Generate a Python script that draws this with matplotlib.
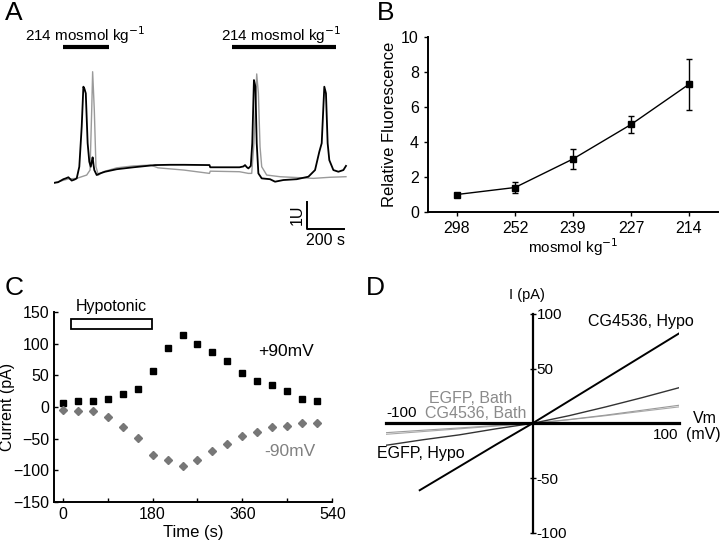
import numpy as np
import matplotlib
matplotlib.use("Agg")
import matplotlib.pyplot as plt
from matplotlib.patches import Rectangle

plt.rcParams['font.family'] = ['Liberation Sans', 'DejaVu Sans']

# ---- data ----
# A: calcium traces (time s, fluorescence U)
t_black = [0, 20, 49, 62, 76, 94, 110, 121, 135, 148, 157, 163, 170, 180, 189, 197, 203, 207, 212, 216,
           229, 247, 274, 337, 427, 544, 625, 700, 838, 842, 1000, 1021, 1030, 1040, 1048, 1061, 1069,
           1078, 1086, 1093, 1102, 1120, 1165, 1192, 1237, 1309, 1372, 1408, 1431, 1444, 1458, 1467,
           1476, 1485, 1507, 1534, 1561, 1575]
u_black = [-0.04, -0.02, 0.09, 0.12, 0.16, 0.04, 0.08, 0.12, 0.54, 1.99, 3.43, 3.35, 3.19, 1.39, 0.72, 0.54,
           0.75, 0.88, 0.60, 0.42, 0.24, 0.30, 0.36, 0.45, 0.52, 0.60, 0.61, 0.61, 0.60, 0.52, 0.52, 0.55,
           0.60, 0.52, 0.48, 0.57, 1.39, 3.67, 3.43, 1.39, 0.30, 0.12, 0.09, 0.00, 0.06, 0.09, 0.18, 0.42,
           1.08, 1.39, 3.43, 3.19, 1.39, 0.78, 0.42, 0.36, 0.42, 0.57]
t_gray = [0, 49, 76, 121, 175, 193, 202, 207, 216, 225, 238, 265, 337, 427, 520, 560, 700, 838, 842, 1000,
          1048, 1066, 1078, 1093, 1102, 1111, 1120, 1147, 1219, 1309, 1399, 1489, 1575]
u_gray = [-0.04, 0.05, 0.10, 0.12, 0.24, 0.42, 2.59, 3.97, 2.59, 0.54, 0.24, 0.36, 0.50, 0.57, 0.60, 0.50,
          0.42, 0.30, 0.38, 0.36, 0.30, 0.30, 1.39, 3.89, 3.19, 1.26, 0.54, 0.24, 0.18, 0.15, 0.12, 0.16, 0.18]

# B: relative fluorescence vs osmolality
osm_labels = ['298', '252', '239', '227', '214']
rel_fluor = [1.0, 1.4, 3.03, 5.0, 7.3]
rel_err = [0.08, 0.33, 0.55, 0.47, 1.45]

# C: current vs time
time_s = [0, 30, 60, 90, 120, 150, 180, 210, 240, 270, 300, 330, 360, 390, 420, 450, 480, 510]
cur_pos90 = [6, 10, 10, 12, 20, 28, 57, 93, 113, 100, 87, 72, 54, 41, 34, 25, 13, 10]
cur_neg90 = [-4, -7, -7, -16, -31, -49, -76, -84, -93, -84, -69, -58, -45, -39, -32, -30, -25, -25]

# D: I-V curves
vm_hypo_cg = [-77, -50, -25, 0, 25, 50, 75, 100]
i_hypo_cg = [-61, -39.5, -19.5, 0, 20.5, 41, 61.5, 82]
vm_iv = [-100, -75, -50, -25, 0, 25, 50, 75, 100]
i_hypo_egfp = [-20, -15, -10.5, -5, 0, 7, 15, 23.5, 32.5]
i_bath_egfp = [-8.5, -6.3, -4.2, -2, 0, 3.5, 7.5, 12, 16.5]
i_bath_cg = [-10, -7.5, -5, -2.5, 0, 3.3, 7, 11, 15]

W, H = 720, 544


def box(l, t, r, b):
    return [l / W, 1 - b / H, (r - l) / W, (b - t) / H]


fig = plt.figure(figsize=(7.2, 5.44), dpi=100)
gray = '#8a8a8a'

# ---------- A ----------
axA = fig.add_axes(box(54.3, 25, 350.6, 250))
axA.plot(t_gray, u_gray, color='#9a9a9a', lw=1.0)
axA.plot(t_black, u_black, color='black', lw=1.3)
axA.set_xlim(0, 1600)
axA.set_ylim(-2.466, 5.657)
axA.axis('off')
for x0, x1, xc in [(45, 297, 168), (958, 1520, 1227)]:
    axA.plot([x0, x1], [4.87, 4.87], color='black', lw=3, solid_capstyle='butt', clip_on=False)
    axA.text(xc, 5.30, '214 mosmol kg$^{-1}$', ha='center', va='center', fontsize=11, clip_on=False)
# scale bar
axA.plot([1366, 1366, 1566], [-0.72, -1.72, -1.72], color='black', lw=1.4, clip_on=False)
axA.text(1312, -1.21, '1U', rotation=90, ha='center', va='center', fontsize=11.5)
axA.text(1466, -2.13, '200 s', ha='center', va='center', fontsize=11.5)

# ---------- B ----------
axB = fig.add_axes(box(428, 37, 718, 212))
xb = np.arange(1, len(osm_labels) + 1)
axB.errorbar(xb, rel_fluor, yerr=rel_err, color='black', lw=1.0, marker='s', ms=3.8,
             capsize=2.5, elinewidth=1.0, capthick=1.0)
axB.set_xlim(0.5, 5.5)
axB.set_ylim(0, 10)
axB.set_xticks(xb)
axB.set_xticklabels(osm_labels)
axB.set_yticks(range(0, 11, 2))
axB.spines['top'].set_visible(False)
axB.spines['right'].set_visible(False)
for s in ('left', 'bottom'):
    axB.spines[s].set_linewidth(1.4)
axB.tick_params(labelsize=11.5, direction='out', length=3, width=1)
axB.set_xlabel('mosmol kg$^{-1}$', fontsize=11, labelpad=0)
axB.set_ylabel('Relative Fluorescence', fontsize=12, labelpad=3)

# ---------- C ----------
axC = fig.add_axes(box(54.3, 312, 332.3, 502))
axC.plot(time_s, cur_pos90, ls='none', marker='s', ms=4.5, color='black')
axC.plot(time_s, cur_neg90, ls='none', marker='D', ms=3.8, color='#777777')
axC.set_xlim(-16.8, 540)
axC.set_ylim(-150, 150)
axC.set_xticks([0, 180, 360, 540])
axC.set_xticks([90, 270, 450], minor=True)
axC.set_yticks(range(-150, 151, 50))
axC.spines['top'].set_visible(False)
axC.spines['right'].set_visible(False)
for s in ('left', 'bottom'):
    axC.spines[s].set_linewidth(1.4)
axC.tick_params(labelsize=11.5, direction='in', length=3, width=1)
axC.tick_params(which='minor', direction='in', length=3, width=1)
axC.set_xlabel('Time (s)', fontsize=12, labelpad=2)
axC.set_ylabel('Current (pA)', fontsize=11.5, va='center')
axC.yaxis.set_label_coords(-0.168, 0.5)
axC.add_patch(Rectangle((16.6, 122.7), 161.4, 15.8, fill=False, ec='black', lw=1.3))
axC.text(97, 158, 'Hypotonic', ha='center', va='center', fontsize=11.5, clip_on=False)
axC.text(448, 87, '+90mV', ha='center', va='center', fontsize=12.5)
axC.text(455, -71, '-90mV', ha='center', va='center', fontsize=12.5, color='#808080')

# ---------- D ----------
axD = fig.add_axes(box(386, 313.7, 679, 533))
axD.plot(vm_iv, i_bath_cg, color='#a8a8a8', lw=0.8)
axD.plot(vm_iv, i_bath_egfp, color='#9a9a9a', lw=0.8)
axD.plot(vm_iv, i_hypo_egfp, color='#333333', lw=1.0)
axD.plot(vm_hypo_cg, i_hypo_cg, color='black', lw=1.4)
axD.set_xlim(-100, 100)
axD.set_ylim(-100, 100)
axD.spines['top'].set_visible(False)
axD.spines['left'].set_visible(False)
axD.spines['bottom'].set_position('zero')
axD.spines['right'].set_position('zero')
axD.spines['bottom'].set_linewidth(2.3)
axD.spines['right'].set_linewidth(1.6)
axD.yaxis.set_ticks_position('right')
axD.set_yticks([-100, -50, 50, 100])
axD.set_yticklabels(['-100', '-50', '50', '100'])
axD.tick_params(axis='y', direction='inout', length=4, width=1, labelsize=11, pad=1)
axD.set_xticks([])
axD.text(-89, 9, '-100', ha='center', va='center', fontsize=11)
axD.text(91, -10.5, '100', ha='center', va='center', fontsize=11)
axD.text(117.5, 4, 'Vm', ha='center', va='center', fontsize=11.5, clip_on=False)
axD.text(116.5, -10.5, '(mV)', ha='center', va='center', fontsize=11.5, clip_on=False)
axD.text(-4, 117, 'I (pA)', ha='center', va='center', fontsize=10.5, clip_on=False)
axD.text(74, 93, 'CG4536, Hypo', ha='center', va='center', fontsize=11.5)
axD.text(-42, 22.8, 'EGFP, Bath', ha='center', va='center', fontsize=11.5, color=gray)
axD.text(-39, 9, 'CG4536, Bath', ha='center', va='center', fontsize=11.5, color=gray)
axD.text(-76, -27.5, 'EGFP, Hypo', ha='center', va='center', fontsize=11.5)

# panel letters
for lbl, x, y in [('A', 14, 13), ('B', 386, 13), ('C', 14, 288), ('D', 375, 288)]:
    fig.text(x / W, 1 - y / H, lbl, fontsize=19, ha='center', va='center')

fig.savefig('out.png', dpi=100)
